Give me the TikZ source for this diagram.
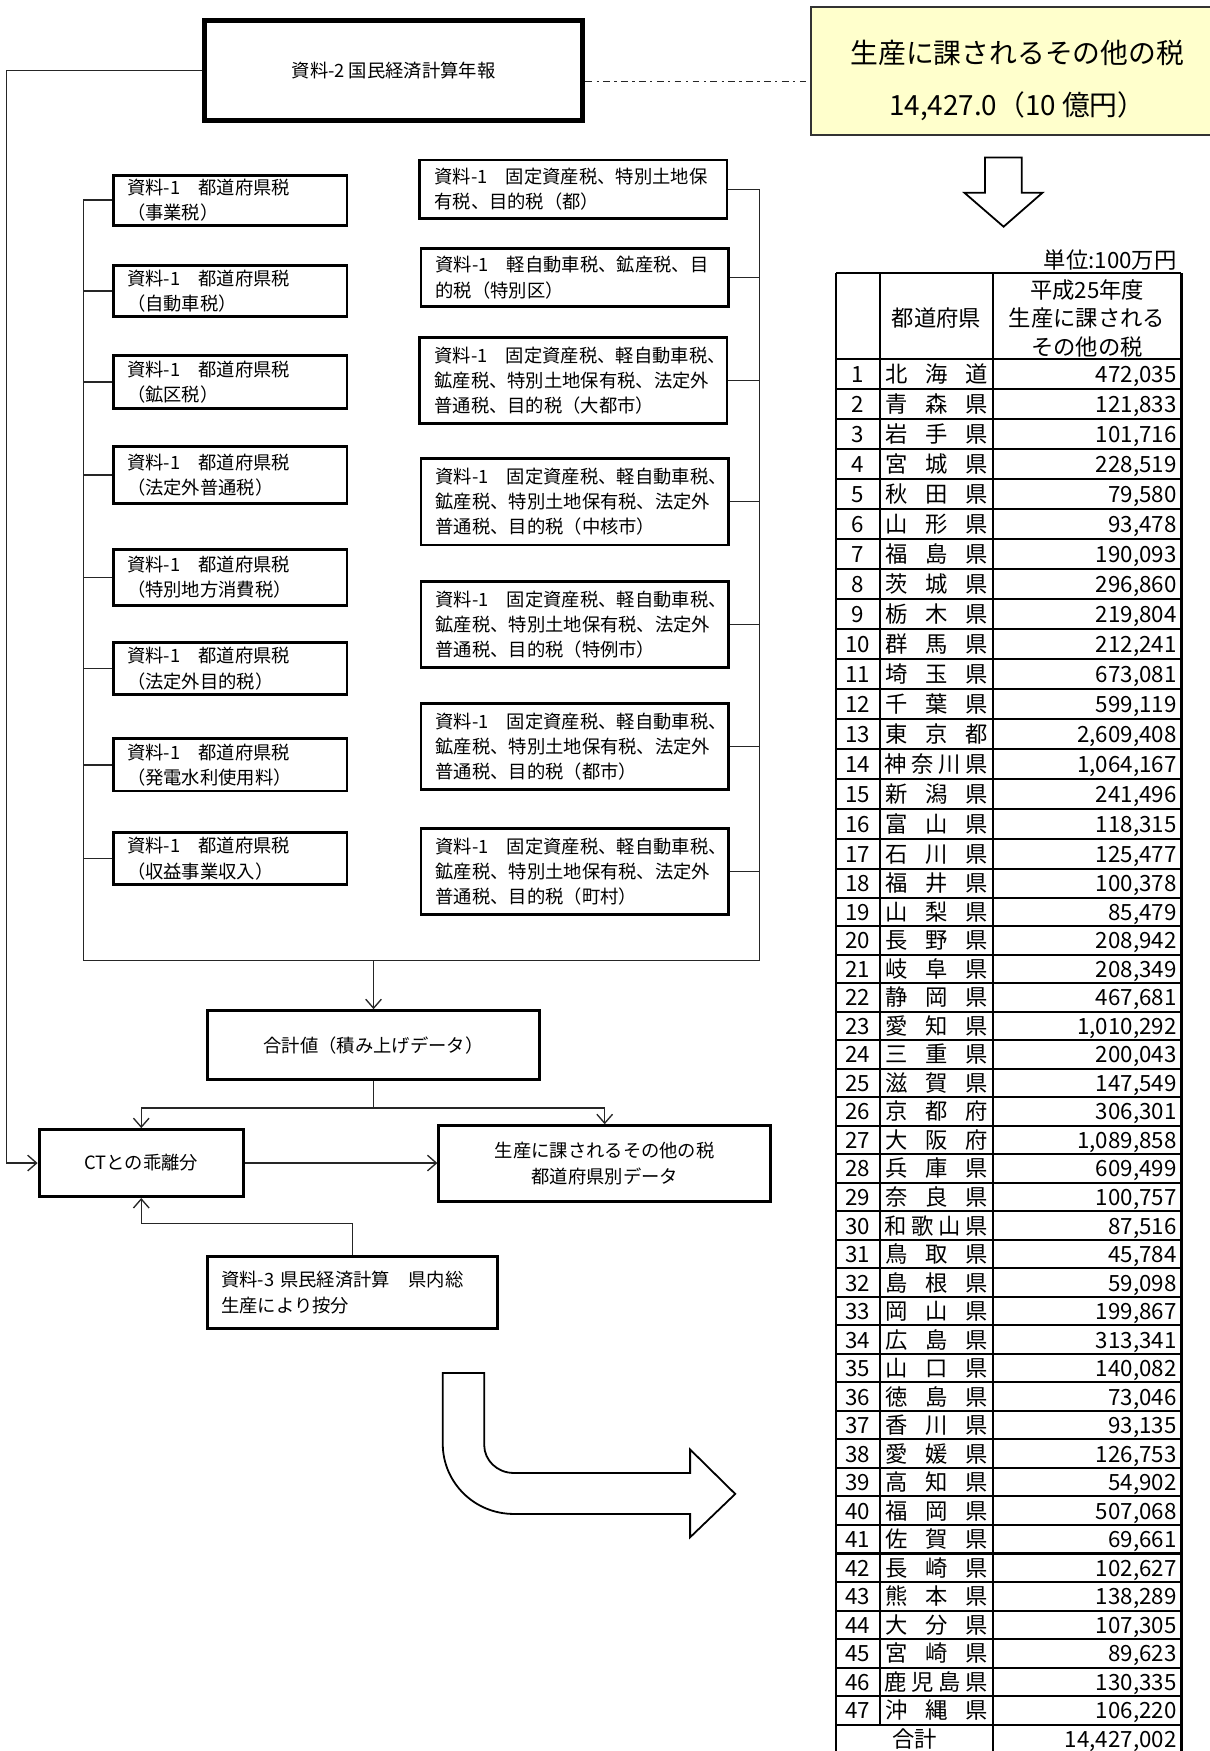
\documentclass[tikz,border=0pt]{standalone}
\usepackage{fontspec}
\newfontfamily\jp{Noto Sans CJK JP}
\usetikzlibrary{arrows.meta}
\definecolor{ylw}{HTML}{FFFFCC}
\exhyphenpenalty=10000
\hyphenpenalty=10000
\newcommand\RowY[1]{\pgfmathsetmacro\yc{(#1<=17 ? 321.5+(#1-0.5)*26.875 : 778.4+(#1-17.5)*25.53)+7.5}}
\newcommand\PrefRowA[5]{%
  \RowY{#1}%
  \node[tc] (no#1) at (768,\yc) {#1};
  \node[tc] (pa#1) at (803,\yc) {#2};
  \node[tc] (pb#1) at (838.5,\yc) {#3};
  \node[tc] (pc#1) at (875,\yc) {#4};
  \node[tc,anchor=base east] (va#1) at (1054,\yc) {#5};
}
\newcommand\PrefRowB[6]{%
  \RowY{#1}%
  \node[tc] (no#1) at (768,\yc) {#1};
  \node[tc] (pa#1) at (802,\yc) {#2};
  \node[tc] (pb#1) at (826,\yc) {#3};
  \node[tc] (pc#1) at (850,\yc) {#4};
  \node[tc] (pd#1) at (875,\yc) {#5};
  \node[tc,anchor=base east] (va#1) at (1054,\yc) {#6};
}
\begin{document}
\begin{tikzpicture}[x=0.5pt,y=-0.5pt,
  font=\jp\fontsize{8.2}{11.3}\selectfont,
  box/.style={draw=black, line width=1.3pt, fill=white, inner xsep=6pt, inner ysep=0pt},
  lbox/.style={box, text width=92.5pt, align=left, minimum width=104.5pt},
  rbox/.style={box, inner xsep=6.5pt, text width=124.5pt, align=left, minimum width=137.5pt},
  cbox/.style={box, align=center},
  conn/.style={draw=black!85, line width=0.6pt},
  arr/.style={conn, -{Straight Barb[length=4pt,width=7pt]}},
  blk/.style={draw=black, line width=0.8pt, fill=white, line join=miter},
  tc/.style={font=\jp\fontsize{10}{12}\selectfont, inner sep=0pt, anchor=base},
  tl/.style={draw=black, line width=0.9pt}]
\fill[white] (0,0) rectangle (1083,1568);
\useasboundingbox (0,0) rectangle (1083,1568);

% ---- top boxes
\node[box, line width=2.2pt, minimum width=169.5pt, minimum height=44.5pt] (s2) at (352.5,63) {資料-2 国民経済計算年報};
\node[draw=black!80, line width=0.8pt, fill=ylw, minimum width=185pt, minimum height=57.5pt, inner sep=0pt] (yl) at (911,63.5) {};
\node[font=\jp\fontsize{12.45}{23.2}\selectfont, align=center] (ylt) at (911,72.4) {生産に課されるその他の税\\14,427.0（10 億円）};
\draw[conn, dash pattern=on 3pt off 2pt on 1pt off 2pt] ([yshift=-5pt]s2.east) -- ([yshift=-5pt]s2.east -| yl.west);

% ---- left column
\node[lbox, minimum height=22.4pt] (L1) at (206.25,179.2) {\mbox{資料-1　都道府県税}\\（事業税）};
\node[lbox, minimum height=23pt] (L2) at (206.25,260.5) {\mbox{資料-1　都道府県税}\\（自動車税）};
\node[lbox, minimum height=23.5pt] (L3) at (206.25,342) {\mbox{資料-1　都道府県税}\\（鉱区税）};
\node[lbox, minimum height=25.4pt] (L4) at (206.25,425.4) {\mbox{資料-1　都道府県税}\\（法定外普通税）};
\node[lbox, minimum height=25pt] (L5) at (206.25,517) {\mbox{資料-1　都道府県税}\\（特別地方消費税）};
\node[lbox, minimum height=23pt] (L6) at (206.25,598.7) {\mbox{資料-1　都道府県税}\\（法定外目的税）};
\node[lbox, minimum height=23.3pt] (L7) at (206.25,685) {\mbox{資料-1　都道府県税}\\（発電水利使用料）};
\node[lbox, minimum height=23.3pt] (L8) at (206.25,768.9) {\mbox{資料-1　都道府県税}\\（収益事業収入）};

% ---- right column
\node[rbox, minimum height=26.2pt] (R1) at (513.5,169.5) {\mbox{資料-1　固定資産税、特別土地保}\\有税、目的税（都）};
\node[rbox, minimum height=26.1pt] (R2) at (514.5,248.6) {\mbox{資料-1　軽自動車税、鉱産税、目}\\的税（特別区）};
\node[rbox, minimum height=38.4pt] (R3) at (513.5,340.9) {\mbox{資料-1　固定資産税、軽自動車税、}\\\mbox{鉱産税、特別土地保有税、法定外}\\普通税、目的税（大都市）};
\node[rbox, minimum height=38.7pt] (R4) at (514.5,449.3) {\mbox{資料-1　固定資産税、軽自動車税、}\\\mbox{鉱産税、特別土地保有税、法定外}\\普通税、目的税（中核市）};
\node[rbox, minimum height=38.4pt] (R5) at (514.5,559.4) {\mbox{資料-1　固定資産税、軽自動車税、}\\\mbox{鉱産税、特別土地保有税、法定外}\\普通税、目的税（特例市）};
\node[rbox, minimum height=38.5pt] (R6) at (514.5,668.5) {\mbox{資料-1　固定資産税、軽自動車税、}\\\mbox{鉱産税、特別土地保有税、法定外}\\普通税、目的税（都市）};
\node[rbox, minimum height=38.4pt] (R7) at (514.5,780.7) {\mbox{資料-1　固定資産税、軽自動車税、}\\\mbox{鉱産税、特別土地保有税、法定外}\\普通税、目的税（町村）};

% ---- bottom boxes
\node[cbox, minimum width=148.5pt, minimum height=31pt] (sum) at (334.5,936) {合計値（積み上げデータ）};
\node[cbox, minimum width=91.5pt, minimum height=30pt] (ct) at (126.5,1041.5) {CTとの乖離分};
\node[cbox, minimum width=148.5pt, minimum height=34pt] (res) at (541.5,1042) {生産に課されるその他の税\\都道府県別データ};
\node[box, text width=117.8pt, align=left, minimum height=32.5pt] (s3) at (315.8,1157.5) {\mbox{資料-3 県民経済計算　県内総}\\生産により按分};

% ---- buses
\coordinate (bl) at (74.5,860);
\coordinate (br) at (680,860);
\draw[conn] (L1.west -| bl) -- (bl) -- (br) -- (R1.east -| br);
\foreach \k in {1,...,8} { \draw[conn] (L\k.west) -- (L\k.west -| bl); }
\foreach \k in {1,...,7} { \draw[conn] (R\k.east) -- (R\k.east -| br); }
\draw[arr] (sum.north |- bl) -- (sum.north);

% ---- flow
\draw[arr] (s2.west) -- ++(-175,0) |- (ct.west);
\path (sum.south) ++(0,24) coordinate (sp);
\draw[conn] (sum.south) -- (sp);
\draw[arr] (sp) -| (ct.north);
\draw[arr] (sp) -| (res.north);
\draw[arr] (ct.east) -- (ct.east -| res.west);
\path (s3.north) ++(0,-28) coordinate (s3up);
\draw[arr] (s3.north) -- (s3up) -| (ct.south);

% ---- block arrows
\draw[blk] (882,141) -- (915,141) -- (915,172.6) -- (933.5,172.6) -- (898.7,203) -- (863.6,172.6) -- (882,172.6) -- cycle;
\draw[blk] (396.5,1229.4) -- (433.6,1229.4) -- (433.6,1294)
  .. controls (433.6,1307.8) and (445.4,1319) .. (459.9,1319)
  -- (618,1319) -- (618,1298) -- (658.4,1337.8) -- (618,1376.6) -- (618,1355.7) -- (459.9,1355.7)
  .. controls (424.9,1355.7) and (396.5,1327.6) .. (396.5,1293) -- cycle;

% ---- table
\node[tc, anchor=base east] (unit) at (1054,240) {単位:100万円};
\draw[tl] (749,244.7) -- (1058,244.7);
\foreach \i in {0,...,17} { \pgfmathsetmacro\yy{321.5+\i*26.875} \draw[tl] (749,\yy) -- (1058,\yy); }
\foreach \i in {18,...,48} { \pgfmathsetmacro\yy{778.4+(\i-17)*25.53} \draw[tl] (749,\yy) -- (1058,\yy); }
\draw[tl] (749,244.7) -- (749,1575);
\draw[tl] (788,244.7) -- (788,1544.3);
\draw[tl] (889,244.7) -- (889,1575);
\draw[tl] (1058,244.7) -- (1058,1575);
\node[tc, anchor=center] (hname) at (838.5,285) {都道府県};
\node[tc, anchor=center, align=center, font=\jp\fontsize{10}{12.75}\selectfont] (hval) at (973.5,285) {平成25年度\\生産に課される\\その他の税};

\PrefRowA{1}{北}{海}{道}{472,035}
\PrefRowA{2}{青}{森}{県}{121,833}
\PrefRowA{3}{岩}{手}{県}{101,716}
\PrefRowA{4}{宮}{城}{県}{228,519}
\PrefRowA{5}{秋}{田}{県}{79,580}
\PrefRowA{6}{山}{形}{県}{93,478}
\PrefRowA{7}{福}{島}{県}{190,093}
\PrefRowA{8}{茨}{城}{県}{296,860}
\PrefRowA{9}{栃}{木}{県}{219,804}
\PrefRowA{10}{群}{馬}{県}{212,241}
\PrefRowA{11}{埼}{玉}{県}{673,081}
\PrefRowA{12}{千}{葉}{県}{599,119}
\PrefRowA{13}{東}{京}{都}{2,609,408}
\PrefRowB{14}{神}{奈}{川}{県}{1,064,167}
\PrefRowA{15}{新}{潟}{県}{241,496}
\PrefRowA{16}{富}{山}{県}{118,315}
\PrefRowA{17}{石}{川}{県}{125,477}
\PrefRowA{18}{福}{井}{県}{100,378}
\PrefRowA{19}{山}{梨}{県}{85,479}
\PrefRowA{20}{長}{野}{県}{208,942}
\PrefRowA{21}{岐}{阜}{県}{208,349}
\PrefRowA{22}{静}{岡}{県}{467,681}
\PrefRowA{23}{愛}{知}{県}{1,010,292}
\PrefRowA{24}{三}{重}{県}{200,043}
\PrefRowA{25}{滋}{賀}{県}{147,549}
\PrefRowA{26}{京}{都}{府}{306,301}
\PrefRowA{27}{大}{阪}{府}{1,089,858}
\PrefRowA{28}{兵}{庫}{県}{609,499}
\PrefRowA{29}{奈}{良}{県}{100,757}
\PrefRowB{30}{和}{歌}{山}{県}{87,516}
\PrefRowA{31}{鳥}{取}{県}{45,784}
\PrefRowA{32}{島}{根}{県}{59,098}
\PrefRowA{33}{岡}{山}{県}{199,867}
\PrefRowA{34}{広}{島}{県}{313,341}
\PrefRowA{35}{山}{口}{県}{140,082}
\PrefRowA{36}{徳}{島}{県}{73,046}
\PrefRowA{37}{香}{川}{県}{93,135}
\PrefRowA{38}{愛}{媛}{県}{126,753}
\PrefRowA{39}{高}{知}{県}{54,902}
\PrefRowA{40}{福}{岡}{県}{507,068}
\PrefRowA{41}{佐}{賀}{県}{69,661}
\PrefRowA{42}{長}{崎}{県}{102,627}
\PrefRowA{43}{熊}{本}{県}{138,289}
\PrefRowA{44}{大}{分}{県}{107,305}
\PrefRowA{45}{宮}{崎}{県}{89,623}
\PrefRowB{46}{鹿}{児}{島}{県}{130,335}
\PrefRowA{47}{沖}{縄}{県}{106,220}
\RowY{48}
\node[tc] (totl) at (819,\yc) {合計};
\node[tc, anchor=base east] (totv) at (1054,\yc) {14,427,002};
\end{tikzpicture}
\end{document}
